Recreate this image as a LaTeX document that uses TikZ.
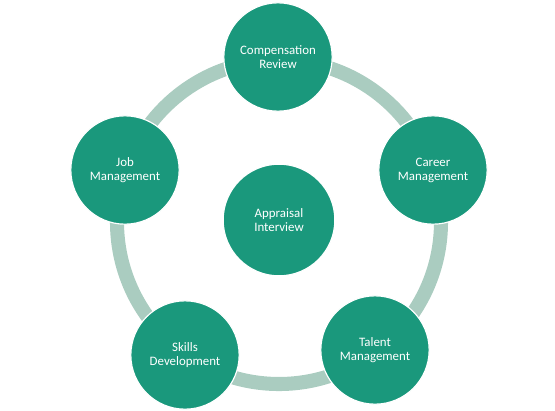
\documentclass[tikz,border=0pt]{standalone}
\usepackage{fontspec}
\setmainfont{Carlito}
\usetikzlibrary{positioning}
\definecolor{stagegreen}{RGB}{26,152,124}
\definecolor{ringgreen}{RGB}{170,204,192}
\tikzset{
    stage/.style = {circle, draw=white, line width=1pt, fill=stagegreen, text=white,
                    minimum size=3.25cm, inner sep=0pt, align=center,
                    font=\fontsize{11}{12}\selectfont},
    ring/.style = {draw=ringgreen, line width=12pt}
}

\begin{document}
\begin{tikzpicture}[x=0.03cm, y=-0.03cm]
\useasboundingbox (0,0) rectangle (555,410);

% Ring behind the stages
\coordinate (hub) at (279,222);
\draw[ring] (hub) circle[radius=162];

% Centre
\node[stage, minimum size=3.35cm] (appraisal) at (279,220) {Appraisal\\Interview};

% Outer stages, clockwise from the top
\node[stage] (comp) at (278,57) {Compensation\\Review};
\node[stage] (career) at (433,170) {Career\\Management};
\node[stage] (talent) at (375,350) {Talent\\Management};
\node[stage] (skills) at (185,355) {Skills\\Development};
\node[stage] (job) at (125,170) {Job\\Management};
\end{tikzpicture}
\end{document}
